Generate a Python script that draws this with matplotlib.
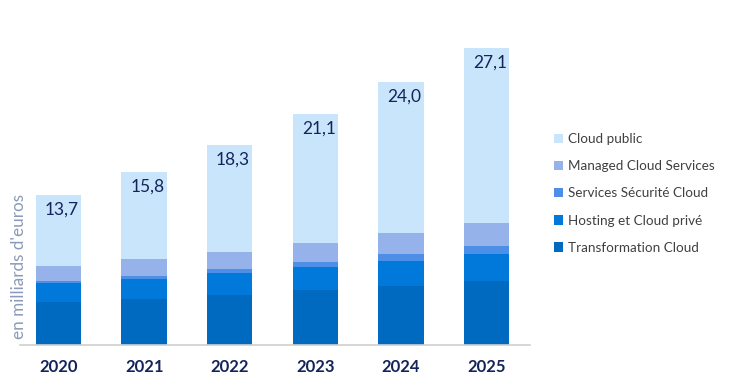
import numpy as np
import matplotlib
matplotlib.use("Agg")
import matplotlib.pyplot as plt

# Données (milliards d'euros)
annees = ["2020", "2021", "2022", "2023", "2024", "2025"]
transformation = [3.9, 4.2, 4.57, 5.02, 5.42, 5.84]
hosting = [1.76, 1.83, 1.98, 2.13, 2.25, 2.47]
securite = [0.21, 0.24, 0.36, 0.40, 0.64, 0.73]
managed = [1.34, 1.56, 1.61, 1.79, 1.92, 2.07]
totaux = [13.7, 15.8, 18.3, 21.1, 24.0, 27.1]
cloud_public = [t - a - b - c - d for t, a, b, c, d in zip(totaux, transformation, hosting, securite, managed)]
libelles_totaux = ["13,7", "15,8", "18,3", "21,1", "24,0", "27,1"]

series = [
    ("Transformation Cloud", transformation, "#0069C0"),
    ("Hosting et Cloud privé", hosting, "#0079DA"),
    ("Services Sécurité Cloud", securite, "#4D8FE6"),
    ("Managed Cloud Services", managed, "#95B2EB"),
    ("Cloud public", cloud_public, "#C9E5FC"),
]

fig = plt.figure(figsize=(7.3, 3.83), dpi=100)
ax = fig.add_axes([0.0274, 0.0992, 0.699, 0.8486])

x = np.arange(len(annees))
largeur = 0.53
bas = np.zeros(len(annees))
handles = []
for nom, valeurs, couleur in series:
    b = ax.bar(x, valeurs, largeur, bottom=bas, color=couleur, label=nom)
    handles.append(b)
    bas += np.array(valeurs)

for xi, tot, lab in zip(x, totaux, libelles_totaux):
    ax.text(xi + 0.04, tot - 0.6, lab, ha="center", va="top", fontsize=12.5,
            color="#14245A", family="Lato")

ax.set_xlim(-0.45, 5.51)
ax.set_ylim(0, 29.7)
ax.set_xticks(x)
ax.set_xticklabels(annees, fontsize=12, fontweight="bold", color="#14245A", family="Lato")
ax.tick_params(axis="x", length=0, pad=10)
ax.set_yticks([])
for s in ["top", "right", "left"]:
    ax.spines[s].set_visible(False)
ax.spines["bottom"].set_color("#D0D0D0")
ax.spines["bottom"].set_linewidth(1.2)

fig.text(0.015, 0.115, "en milliards d'euros", rotation=90, ha="left", va="bottom",
         fontsize=12.3, color="#8A9AB8", family="Lato")

leg = fig.legend(handles[::-1], [s[0] for s in series][::-1],
                 loc="center left", bbox_to_anchor=(0.742, 0.495),
                 frameon=False, handlelength=0.7, handleheight=0.7,
                 handletextpad=0.35, labelspacing=1.12,
                 prop={"family": "Lato", "size": 9.7})
for t in leg.get_texts():
    t.set_color("#404040")

fig.savefig("out.png", dpi=100)
